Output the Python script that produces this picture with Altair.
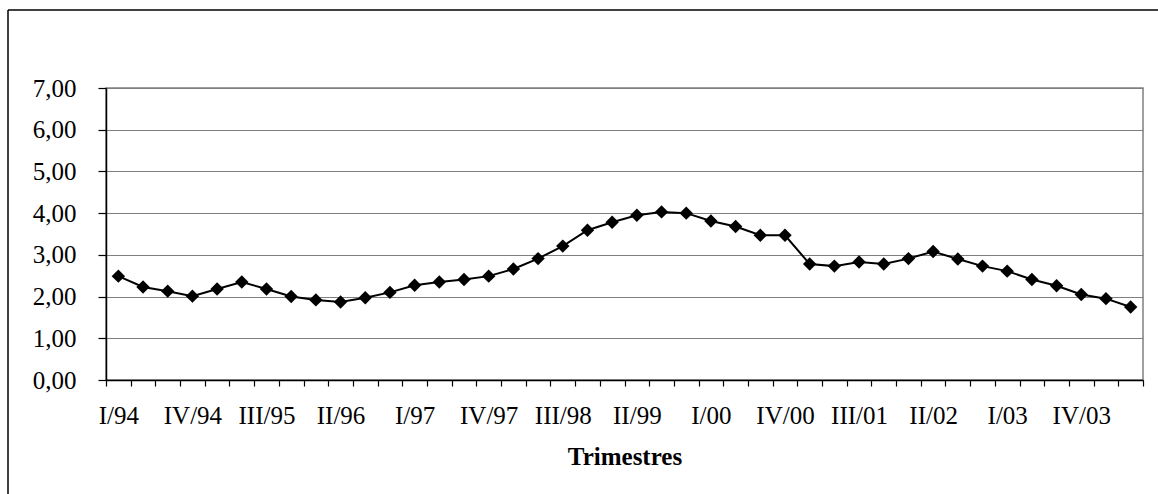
import altair as alt
import pandas as pd

# Quarterly series, I/94 .. II/04
quarters = [
    "I/94", "II/94", "III/94", "IV/94",
    "I/95", "II/95", "III/95", "IV/95",
    "I/96", "II/96", "III/96", "IV/96",
    "I/97", "II/97", "III/97", "IV/97",
    "I/98", "II/98", "III/98", "IV/98",
    "I/99", "II/99", "III/99", "IV/99",
    "I/00", "II/00", "III/00", "IV/00",
    "I/01", "II/01", "III/01", "IV/01",
    "I/02", "II/02", "III/02", "IV/02",
    "I/03", "II/03", "III/03", "IV/03",
    "I/04", "II/04",
]
values = [
    2.49, 2.23, 2.13, 2.01, 2.18, 2.35, 2.18, 2.00, 1.92, 1.87,
    1.97, 2.10, 2.27, 2.35, 2.41, 2.49, 2.66, 2.91, 3.21, 3.59,
    3.78, 3.95, 4.03, 4.00, 3.81, 3.68, 3.47, 3.47, 2.78, 2.73,
    2.83, 2.78, 2.91, 3.08, 2.90, 2.73, 2.61, 2.41, 2.26, 2.05,
    1.95, 1.75,
]
# Every third quarter carries a label
shown_labels = quarters[::3]
y_ticks = [0, 1, 2, 3, 4, 5, 6, 7]

df = pd.DataFrame({"q": quarters, "v": values})

FONT = "Liberation Serif"
label_list = "[" + ",".join("'" + s + "'" for s in shown_labels) + "]"

x_enc = alt.X(
    "q:N",
    sort=quarters,
    bandPosition=0.5,
    scale=alt.Scale(type="band", paddingInner=0, paddingOuter=0),
    axis=alt.Axis(
        title="Trimestres",
        labelAngle=0,
        tickBand="extent",
        labelExpr=f"indexof({label_list}, datum.value) >= 0 ? datum.value : ''",
        labelOverlap=False,
        labelBound=False,
        labelFlush=False,
        tickSize=6,
        labelPadding=17,
        titlePadding=16,
        grid=False,
    ),
)
y_enc = alt.Y(
    "v:Q",
    scale=alt.Scale(domain=[0, 7], nice=False, zero=True),
    axis=alt.Axis(
        title=None,
        values=y_ticks,
        labelExpr="replace(format(datum.value, '.2f'), '.', ',')",
        grid=True,
        tickSize=8,
        labelPadding=22,
    ),
)

base = alt.Chart(df)
line = base.mark_line(color="black", strokeWidth=2).encode(x=x_enc, y=y_enc)
pts = base.mark_point(
    shape="diamond", filled=True, color="black", size=180, opacity=1
).encode(x=x_enc, y=y_enc)

# Outer frame (left and top edges of the chart box)
one = pd.DataFrame({"k": [0]})
frame_left = alt.Chart(one).mark_rule(color="black", strokeWidth=1.5).encode(
    x=alt.value(-98), y=alt.value(-78), y2=alt.value(420)
)
frame_top = alt.Chart(one).mark_rule(color="black", strokeWidth=1.5).encode(
    x=alt.value(-98), x2=alt.value(1060), y=alt.value(-78)
)

chart = (
    alt.layer(line, pts, frame_left, frame_top)
    .properties(
        width=1037,
        height=292,
        padding={"left": 106, "top": 88, "right": 15, "bottom": 114},
        autosize=alt.AutoSizeParams(type="none"),
        background="white",
    )
    .configure_view(stroke="#808080", strokeWidth=1.5)
    .configure_axis(
        labelFont=FONT,
        labelFontSize=25,
        labelColor="black",
        titleFont=FONT,
        titleFontSize=25,
        titleFontWeight="bold",
        titleColor="black",
        domainColor="black",
        domainWidth=1.5,
        tickColor="black",
        tickWidth=1.2,
        gridColor="#7f7f7f",
        gridWidth=1.2,
    )
)

chart.save("out.html", embed_options={"renderer": "svg", "actions": False})
